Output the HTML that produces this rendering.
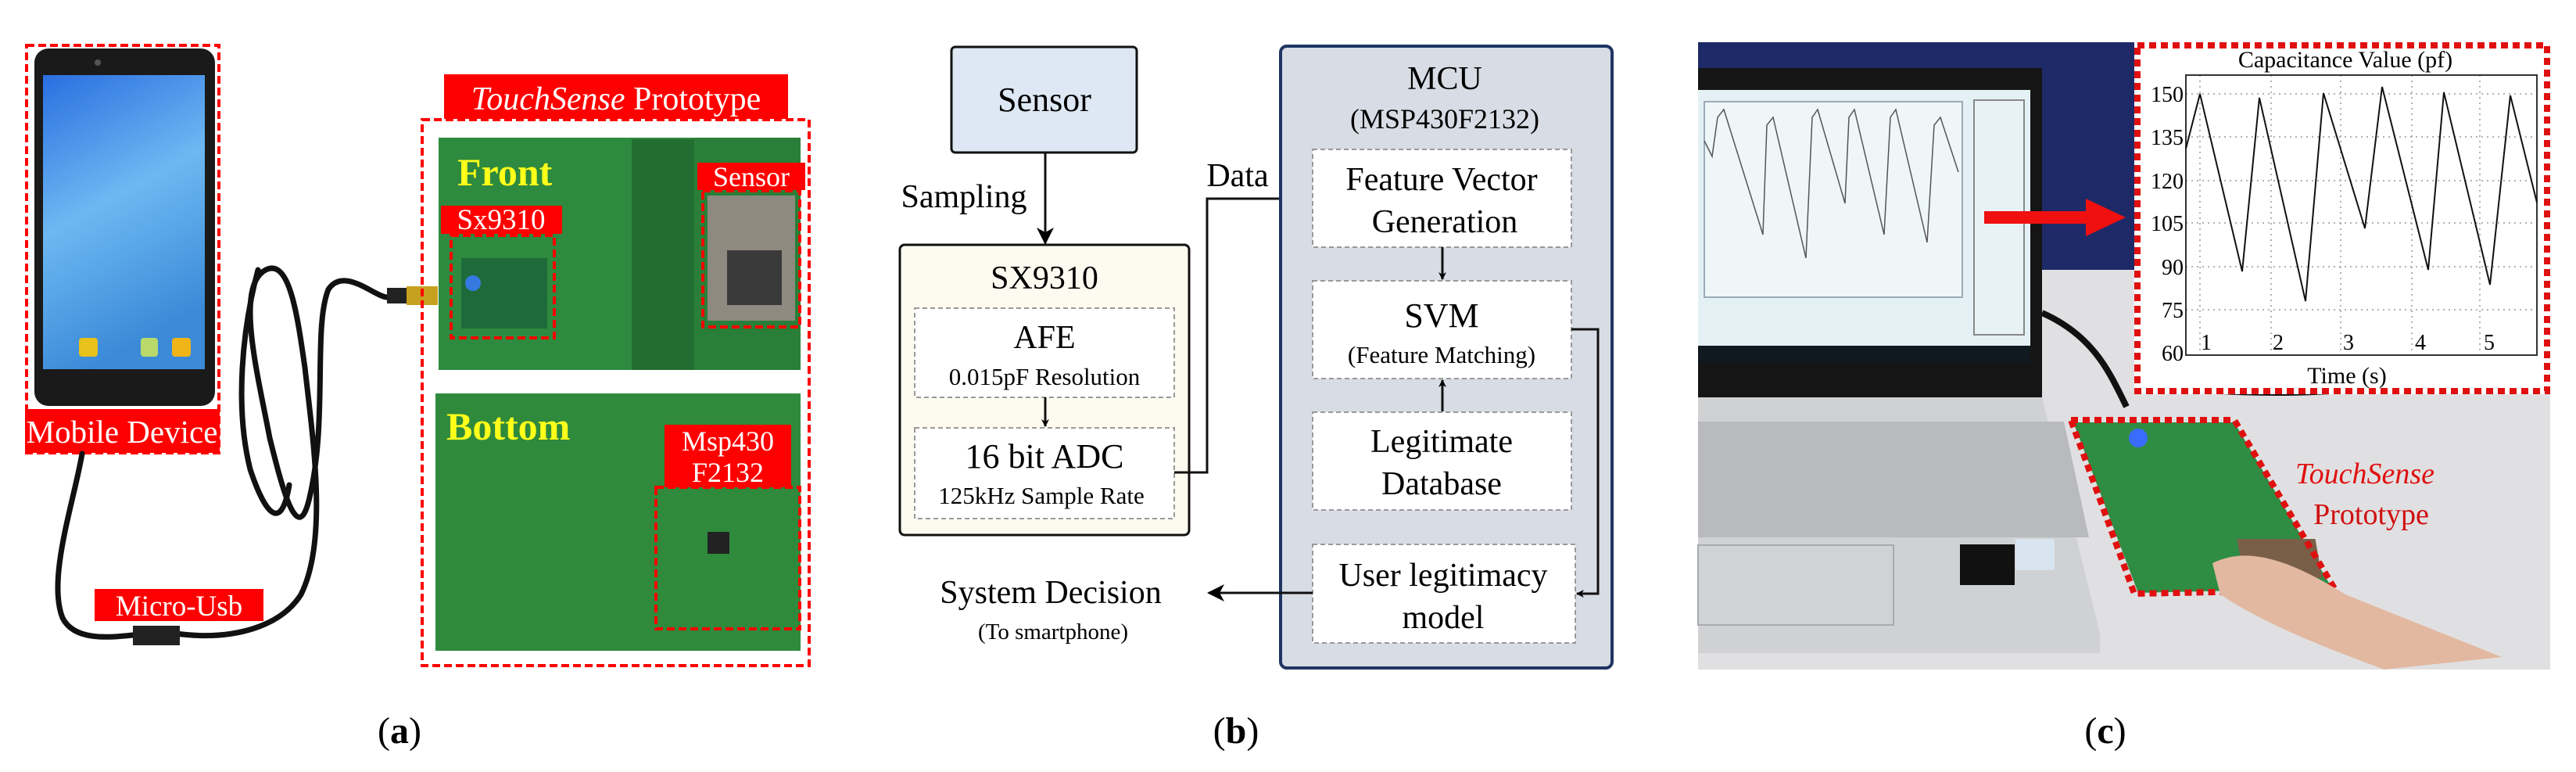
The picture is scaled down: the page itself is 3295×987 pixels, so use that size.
<!DOCTYPE html>
<html><head><meta charset="utf-8"><style>
html,body{margin:0;padding:0;background:#fff;}
svg{display:block;font-family:"Liberation Serif","DejaVu Serif",serif;}
svg text{font-family:"Liberation Serif","DejaVu Serif",serif;}
</style></head><body>
<svg width="3295" height="987" viewBox="0 0 3295 987" xmlns="http://www.w3.org/2000/svg" font-family="Liberation Serif, DejaVu Serif, serif">
<defs>
<linearGradient id="scr" x1="0" y1="0" x2="0.3" y2="1"><stop offset="0" stop-color="#2a6fe0"/><stop offset="0.5" stop-color="#6db8f2"/><stop offset="1" stop-color="#3b8ad8"/></linearGradient>
<marker id="ah" markerWidth="10" markerHeight="10" refX="9" refY="5" orient="auto" markerUnits="userSpaceOnUse"><path d="M0,0 L10,5 L0,10 L3,5 z" fill="#000"/></marker>
<marker id="ah2" markerWidth="22" markerHeight="22" refX="20" refY="11" orient="auto" markerUnits="userSpaceOnUse"><path d="M0,0 L22,11 L0,22 L6,11 z" fill="#000"/></marker>
</defs>
<g font-family="Liberation Serif, DejaVu Serif, serif">
<!-- ============ (a) ============ -->
<rect x="44" y="62" width="231" height="457" rx="18" fill="#1a1a1a"/>
<rect x="55" y="96" width="207" height="376" fill="url(#scr)"/>
<circle cx="125" cy="80" r="4" fill="#555"/>
<rect x="101" y="432" width="24" height="24" rx="4" fill="#e8c21a"/>
<rect x="180" y="432" width="22" height="24" rx="4" fill="#b9d96a"/>
<rect x="220" y="432" width="24" height="24" rx="4" fill="#f0b418"/>
<rect x="34" y="58" width="246" height="521" fill="none" stroke="#f00" stroke-width="4" stroke-dasharray="10,5"/>
<rect x="32" y="523" width="249" height="56" fill="#f00"/>
<text x="156" y="566" font-size="41" fill="#fff" text-anchor="middle">Mobile Device</text>

<g fill="none" stroke="#111" stroke-width="7" stroke-linecap="round">
<path d="M105,580 C95,640 60,740 80,790 C95,820 140,815 170,812"/>
<path d="M225,810 C300,820 360,800 385,760 C420,690 400,560 390,470 C380,400 370,330 340,345 C300,365 330,480 345,560 C360,620 380,700 395,640 C420,540 400,420 420,370 C440,340 480,380 495,380"/>
<path d="M330,345 C310,420 300,520 320,600 C340,660 360,680 370,620"/>
</g>
<rect x="170" y="800" width="60" height="25" fill="#222"/>
<rect x="495" y="368" width="45" height="20" fill="#222"/>
<rect x="520" y="366" width="40" height="24" fill="#c8a020"/>
<rect x="121" y="753" width="216" height="41" fill="#f00"/>
<text x="229" y="787" font-size="37" fill="#fff" text-anchor="middle">Micro-Usb</text>

<rect x="561" y="176" width="463" height="297" fill="#2e8a3e"/>
<rect x="808" y="178" width="80" height="295" fill="#226e30"/>
<rect x="888" y="176" width="136" height="297" fill="#2a7f38"/>
<rect x="905" y="250" width="112" height="160" fill="#8e8a80"/>
<rect x="930" y="320" width="70" height="70" fill="#3a3a3a"/>
<rect x="590" y="330" width="110" height="90" fill="#1f6a3a"/>
<circle cx="605" cy="362" r="10" fill="#3a7cff" opacity="0.85"/>
<rect x="557" y="503" width="467" height="329" fill="#2f8a3c"/>
<rect x="905" y="680" width="28" height="28" fill="#222"/>
<rect x="540" y="153" width="495" height="698" fill="none" stroke="#f00" stroke-width="4" stroke-dasharray="10,5"/>
<rect x="568" y="95" width="440" height="57" fill="#f00"/>
<text x="788" y="140" font-size="42" fill="#fff" text-anchor="middle"><tspan font-style="italic">TouchSense</tspan> Prototype</text>
<text x="585" y="237" font-size="50" font-weight="bold" fill="#ffff1a">Front</text>
<text x="571" y="562" font-size="50" font-weight="bold" fill="#ffff1a">Bottom</text>
<rect x="577" y="301" width="132" height="131" fill="none" stroke="#f00" stroke-width="4" stroke-dasharray="10,5"/>
<rect x="564" y="263" width="155" height="36" fill="#f00"/>
<text x="641" y="293" font-size="37" fill="#fff" text-anchor="middle">Sx9310</text>
<rect x="899" y="244" width="124" height="174" fill="none" stroke="#f00" stroke-width="4" stroke-dasharray="10,5"/>
<rect x="892" y="208" width="138" height="35" fill="#f00"/>
<text x="961" y="238" font-size="36" fill="#fff" text-anchor="middle">Sensor</text>
<rect x="839" y="623" width="184" height="181" fill="none" stroke="#f00" stroke-width="4" stroke-dasharray="10,5"/>
<rect x="850" y="543" width="162" height="80" fill="#f00"/>
<text x="931" y="576" font-size="36" fill="#fff" text-anchor="middle">Msp430</text>
<text x="931" y="616" font-size="36" fill="#fff" text-anchor="middle">F2132</text>
<text x="511" y="950" font-size="48" text-anchor="middle">(<tspan font-weight="bold">a</tspan>)</text>

<!-- ============ (b) ============ -->
<rect x="1217" y="60" width="237" height="135" rx="5" fill="#dde8f4" stroke="#111" stroke-width="3"/>
<text x="1336" y="142" font-size="44" text-anchor="middle">Sensor</text>
<line x1="1337" y1="195" x2="1337" y2="311" stroke="#111" stroke-width="3" marker-end="url(#ah2)"/>
<text x="1233" y="265" font-size="42" text-anchor="middle">Sampling</text>

<rect x="1151" y="313" width="370" height="371" rx="6" fill="#fdfaf0" stroke="#111" stroke-width="3"/>
<text x="1336" y="369" font-size="42" text-anchor="middle">SX9310</text>
<rect x="1170" y="394" width="332" height="114" fill="#fff" stroke="#999" stroke-width="2" stroke-dasharray="6,4"/>
<text x="1336" y="445" font-size="42" text-anchor="middle">AFE</text>
<text x="1336" y="492" font-size="31" text-anchor="middle">0.015pF Resolution</text>
<line x1="1337" y1="508" x2="1337" y2="545" stroke="#111" stroke-width="3" marker-end="url(#ah)"/>
<rect x="1170" y="547" width="332" height="116" fill="#fff" stroke="#999" stroke-width="2" stroke-dasharray="6,4"/>
<text x="1336" y="598" font-size="44" text-anchor="middle">16 bit ADC</text>
<text x="1332" y="644" font-size="31" text-anchor="middle">125kHz Sample Rate</text>
<polyline points="1502,604 1544,604 1544,254 1675,254" fill="none" stroke="#111" stroke-width="3" marker-end="url(#ah2)"/>
<text x="1583" y="238" font-size="42" text-anchor="middle">Data</text>

<rect x="1638" y="59" width="424" height="795" rx="8" fill="#d8dce4" stroke="#1f3563" stroke-width="4"/>
<text x="1848" y="114" font-size="42" text-anchor="middle">MCU</text>
<text x="1848" y="164" font-size="36" text-anchor="middle">(MSP430F2132)</text>
<rect x="1679" y="191" width="331" height="125" fill="#fff" stroke="#999" stroke-width="2" stroke-dasharray="6,4"/>
<text x="1844" y="243" font-size="42" text-anchor="middle">Feature Vector</text>
<text x="1848" y="297" font-size="42" text-anchor="middle">Generation</text>
<line x1="1845" y1="316" x2="1845" y2="357" stroke="#111" stroke-width="3" marker-end="url(#ah)"/>
<rect x="1679" y="359" width="331" height="125" fill="#fff" stroke="#999" stroke-width="2" stroke-dasharray="6,4"/>
<text x="1844" y="418" font-size="44" text-anchor="middle">SVM</text>
<text x="1844" y="464" font-size="31" text-anchor="middle">(Feature Matching)</text>
<line x1="1845" y1="526" x2="1845" y2="486" stroke="#111" stroke-width="3" marker-end="url(#ah)"/>
<rect x="1679" y="527" width="331" height="125" fill="#fff" stroke="#999" stroke-width="2" stroke-dasharray="6,4"/>
<text x="1844" y="578" font-size="42" text-anchor="middle">Legitimate</text>
<text x="1844" y="632" font-size="42" text-anchor="middle">Database</text>
<rect x="1679" y="696" width="336" height="126" fill="#fff" stroke="#999" stroke-width="2" stroke-dasharray="6,4"/>
<text x="1846" y="749" font-size="42" text-anchor="middle">User legitimacy</text>
<text x="1846" y="803" font-size="42" text-anchor="middle">model</text>
<polyline points="2010,421 2044,421 2044,759 2017,759" fill="none" stroke="#111" stroke-width="3" marker-end="url(#ah)"/>
<line x1="1679" y1="758" x2="1546" y2="758" stroke="#111" stroke-width="3" marker-end="url(#ah2)"/>
<text x="1344" y="771" font-size="42" text-anchor="middle">System Decision</text>
<text x="1347" y="817" font-size="29" text-anchor="middle">(To smartphone)</text>
<text x="1581" y="950" font-size="48" text-anchor="middle">(<tspan font-weight="bold">b</tspan>)</text>

<!-- ============ (c) ============ -->
<rect x="2172" y="54" width="1090" height="802" fill="#e0e0e2"/>
<rect x="2172" y="54" width="1090" height="291" fill="#1e2a68"/>
<rect x="2172" y="87" width="440" height="421" fill="#151515"/>
<rect x="2172" y="115" width="425" height="327" fill="#e4f1f4"/>
<rect x="2180" y="130" width="330" height="250" fill="#eef6f7" stroke="#9ab" stroke-width="2"/>
<polyline points="2180,180 2190,200 2197,150 2205,140 2255,300 2260,160 2268,150 2310,330 2318,150 2325,140 2360,260 2365,150 2372,140 2410,300 2418,150 2425,140 2465,310 2474,160 2482,150 2505,220" fill="none" stroke="#555" stroke-width="1.5"/>
<rect x="2525" y="128" width="64" height="300" fill="#e8f2f4" stroke="#888" stroke-width="2"/>
<rect x="2172" y="442" width="425" height="22" fill="#101820"/>
<polygon points="2172,508 2612,508 2686,810 2686,835 2172,835" fill="#cfd1d3"/>
<polygon points="2172,539 2640,539 2672,687 2172,687" fill="#b8babd"/>
<rect x="2172" y="697" width="250" height="102" fill="#d0d2d4" stroke="#a8aaae" stroke-width="2"/>
<rect x="2507" y="696" width="70" height="52" fill="#111"/>
<rect x="2578" y="689" width="50" height="40" fill="#d8e4f0"/>
<path d="M2612,400 C2680,430 2700,480 2720,520 M2750,490 C2800,500 2900,505 2980,500" fill="none" stroke="#111" stroke-width="8"/>
<polygon points="2652,540 2858,540 2983,752 2735,758" fill="#2f8c43"/>
<rect x="2740" y="689" width="100" height="50" fill="#7a5f48" transform="skewX(10)"/>
<circle cx="2735" cy="560" r="12" fill="#3a6cff"/>
<polygon points="2649,537 2858,537 2987,754 2730,759" fill="none" stroke="#e01010" stroke-width="8" stroke-dasharray="9,6"/>
<path d="M2830,720 C2870,700 2920,710 3000,760 L3200,840 L3050,856 C2980,830 2900,800 2840,760 z" fill="#e2b8a0"/>
<text x="3025" y="618" font-size="38" font-style="italic" fill="#e01010" text-anchor="middle">TouchSense</text>
<text x="3033" y="670" font-size="38" fill="#d01010" text-anchor="middle">Prototype</text>
<rect x="2538" y="270" width="130" height="16" fill="#f01010"/>
<polygon points="2668,254 2719,278 2668,302" fill="#f01010"/>
<rect x="2730" y="54" width="532" height="450" fill="#fff"/>
<rect x="2734" y="58" width="524" height="442" fill="none" stroke="#e01010" stroke-width="8" stroke-dasharray="9,6"/>
<text x="3000" y="86" font-size="30" text-anchor="middle">Capacitance Value (pf)</text>
<g stroke="#999" stroke-width="1.5" stroke-dasharray="2,5">
<line x1="2796" y1="120" x2="3245" y2="120"/><line x1="2796" y1="175" x2="3245" y2="175"/><line x1="2796" y1="231" x2="3245" y2="231"/><line x1="2796" y1="285" x2="3245" y2="285"/><line x1="2796" y1="341" x2="3245" y2="341"/><line x1="2796" y1="396" x2="3245" y2="396"/>
<line x1="2814" y1="96" x2="2814" y2="454"/><line x1="2905" y1="96" x2="2905" y2="454"/><line x1="2994" y1="96" x2="2994" y2="454"/><line x1="3085" y1="96" x2="3085" y2="454"/><line x1="3172" y1="96" x2="3172" y2="454"/>
</g>
<rect x="2796" y="96" width="449" height="358" fill="none" stroke="#333" stroke-width="2"/>
<polyline points="2796,190 2814,120 2868,347 2890,125 2949,385 2972,119 3025,292 3047,111 3106,345 3126,118 3185,364 3211,122 3245,259" fill="none" stroke="#111" stroke-width="2"/>
<g font-size="28" text-anchor="end">
<text x="2793" y="130">150</text><text x="2793" y="185">135</text><text x="2793" y="241">120</text><text x="2793" y="295">105</text><text x="2793" y="351">90</text><text x="2793" y="406">75</text><text x="2793" y="461">60</text>
</g>
<g font-size="28" text-anchor="middle">
<text x="2822" y="447">1</text><text x="2914" y="447">2</text><text x="3004" y="447">3</text><text x="3096" y="447">4</text><text x="3184" y="447">5</text>
</g>
<text x="3002" y="490" font-size="30" text-anchor="middle">Time (s)</text>
<text x="2693" y="950" font-size="48" text-anchor="middle">(<tspan font-weight="bold">c</tspan>)</text>
</g>
</svg>
</body></html>
